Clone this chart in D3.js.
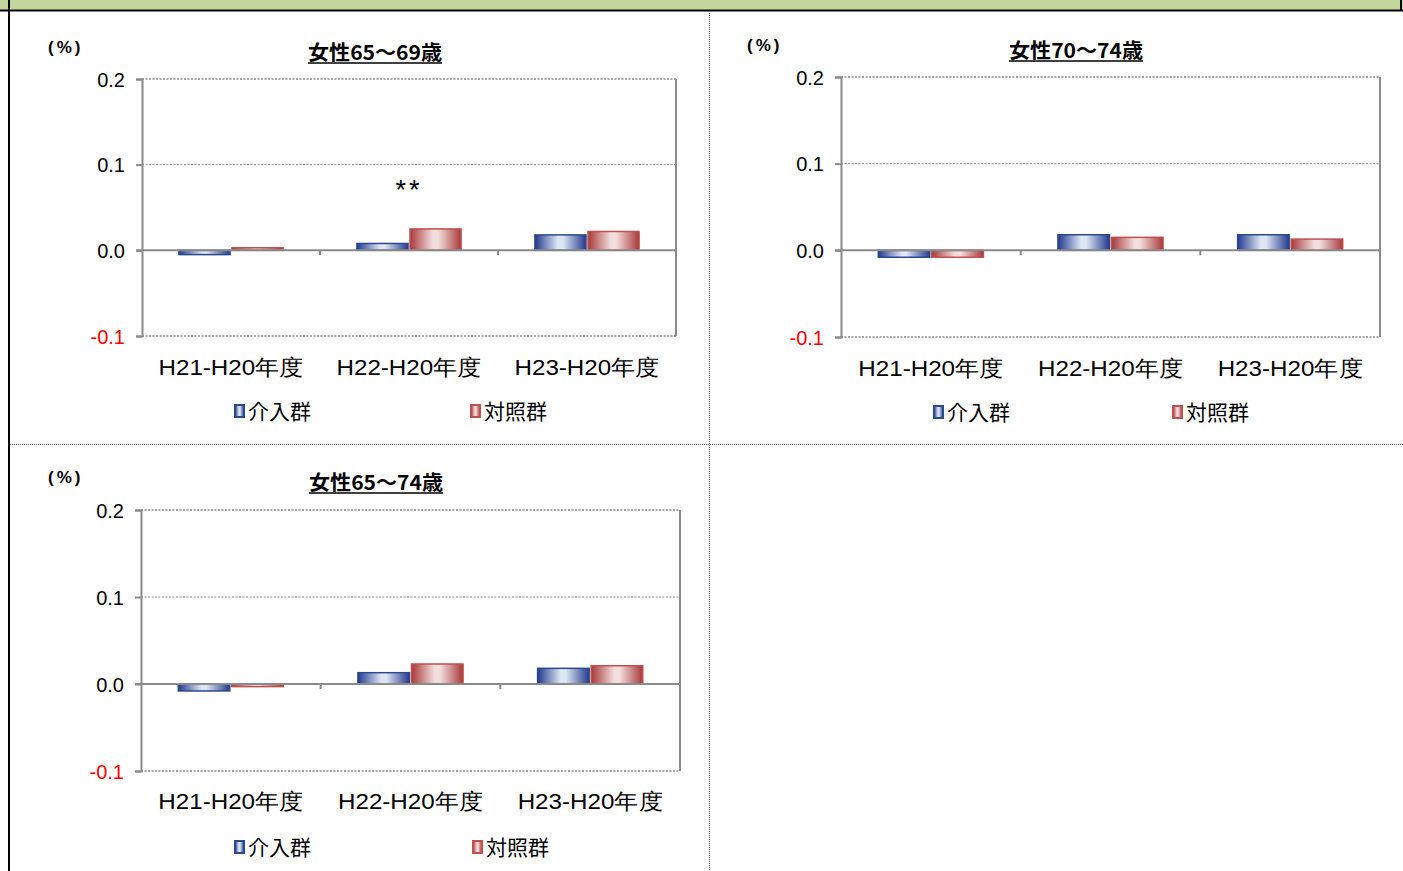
<!DOCTYPE html>
<html><head><meta charset="utf-8">
<script src="https://cdn.jsdelivr.net/npm/d3@7"></script>
<style>
html,body{margin:0;padding:0;background:#fff;}
svg{display:block;}
</style></head>
<body>
<svg id="c" width="1403" height="871"></svg>
<script>
// ---- data ----
const categories = ["H21-H20年度", "H22-H20年度", "H23-H20年度"];
const seriesNames = ["介入群", "対照群"];
const yTicks = [-0.1, 0.0, 0.1, 0.2];
const titles = ["女性65～69歳", "女性70～74歳", "女性65～74歳"];
const f6569Intervention = [-0.005, 0.008, 0.018];
const f6569Control      = [0.003, 0.025, 0.022];
const f7074Intervention = [-0.008, 0.018, 0.018];
const f7074Control      = [-0.008, 0.015, 0.013];
const f6574Intervention = [-0.008, 0.013, 0.018];
const f6574Control      = [-0.003, 0.023, 0.021];
const annotations = [["H22-H20年度", "**"], null, null];

// ---- layout ----
const panels = [
  {x0:142, x1:676, y0:79, y1:336, titleX:375, titleY:60, titleLen:134, pctX:48, pctY:53, catY:375, legY:419, legB:234, legR:470, data:[f6569Intervention, f6569Control]},
  {x0:841, x1:1380, y0:77, y1:337, titleX:1076, titleY:58, titleLen:134, pctX:747, pctY:51, catY:376, legY:420, legB:933, legR:1172, data:[f7074Intervention, f7074Control]},
  {x0:141, x1:680, y0:510, y1:771, titleX:376, titleY:490, titleLen:134, pctX:48, pctY:483, catY:809, legY:855, legB:234, legR:472, data:[f6574Intervention, f6574Control]}
];

const svg = d3.select("#c");
const defs = svg.append("defs");
function grad(id, edge, mid){
  const g = defs.append("linearGradient").attr("id", id).attr("x1","0%").attr("x2","100%").attr("y1","0%").attr("y2","0%");
  g.append("stop").attr("offset","0%").attr("stop-color", edge);
  g.append("stop").attr("offset","45%").attr("stop-color", mid);
  g.append("stop").attr("offset","55%").attr("stop-color", mid);
  g.append("stop").attr("offset","100%").attr("stop-color", edge);
}
grad("gBlue", "#24398f", "#dde6f3");
grad("gRed", "#a8393a", "#f3dede");
const fills = ["url(#gBlue)", "url(#gRed)"];
const strokes = ["#2a4a8c", "#c0504d"];

// ---- frame ----
svg.append("rect").attr("x",0).attr("y",0).attr("width",1403).attr("height",10).attr("fill","#c4d79b");
svg.append("line").attr("x1",0).attr("x2",1403).attr("y1",10.5).attr("y2",10.5).attr("stroke","#000").attr("stroke-width",2);
svg.append("line").attr("x1",9).attr("x2",9).attr("y1",0).attr("y2",871).attr("stroke","#000").attr("stroke-width",2);
svg.append("line").attr("x1",1401).attr("x2",1401).attr("y1",0).attr("y2",11).attr("stroke","#000").attr("stroke-width",2);
svg.append("line").attr("x1",709.5).attr("x2",709.5).attr("y1",11).attr("y2",871).attr("stroke","#555").attr("stroke-width",1).attr("stroke-dasharray","1,1");
svg.append("line").attr("x1",10).attr("x2",1403).attr("y1",444.5).attr("y2",444.5).attr("stroke","#555").attr("stroke-width",1).attr("stroke-dasharray","1,1");

const sans = "'Liberation Sans', Arial, sans-serif";
const jp = "'Noto Sans CJK JP', sans-serif";
const fmt = d => d3.format(".1f")(d).replace("−", "-");

panels.forEach((p, pi) => {
  const g = svg.append("g");
  const y = d3.scaleLinear().domain([-0.1, 0.2]).range([p.y1, p.y0]);
  const x = d3.scaleBand().domain(categories).range([p.x0, p.x1]);
  const bw = x.bandwidth();
  const barW = bw * 0.287;
  const gap = 2;
  const x1 = d3.scaleBand().domain(seriesNames).range([0, 2*barW + gap]).paddingInner(gap/(barW+gap));

  // dotted gridlines and top/bottom borders
  yTicks.filter(t => t !== 0).forEach(t => {
    g.append("line").attr("x1", p.x0).attr("x2", p.x1).attr("y1", y(t)).attr("y2", y(t))
      .attr("stroke", "#8a8a8a").attr("stroke-width", (t === 0.1 ? 1 : 1.5)).attr("stroke-dasharray", "2,1.5");
  });
  // right border
  g.append("line").attr("x1", p.x1).attr("x2", p.x1).attr("y1", p.y0).attr("y2", p.y1).attr("stroke","#8a8a8a").attr("stroke-width",2);

  // bars
  p.data.forEach((vals, si) => {
    g.selectAll(null).data(vals).join("rect")
      .attr("x", (d,i) => x(categories[i]) + (bw - (2*barW+gap))/2 + x1(seriesNames[si]))
      .attr("y", d => Math.min(y(d), y(0)))
      .attr("width", x1.bandwidth())
      .attr("height", d => Math.max(1, Math.abs(y(d) - y(0))))
      .attr("fill", fills[si]).attr("stroke", strokes[si]).attr("stroke-width", 1.5);
  });

  // zero line
  g.append("line").attr("x1", p.x0 - 6).attr("x2", p.x1).attr("y1", y(0)).attr("y2", y(0)).attr("stroke","#8a8a8a").attr("stroke-width",2);
  // x category boundary ticks
  categories.slice(1).forEach(c => {
    g.append("line").attr("x1", x(c)).attr("x2", x(c)).attr("y1", y(0)).attr("y2", y(0)+5).attr("stroke","#8a8a8a").attr("stroke-width",2);
  });

  // y axis
  const ya = d3.axisLeft(y).tickValues(yTicks).tickFormat(fmt).tickSize(6).tickPadding(11);
  const ag = g.append("g").attr("transform", `translate(${p.x0},0)`).call(ya);
  ag.select(".domain").attr("stroke","#8a8a8a").attr("stroke-width",2);
  ag.selectAll(".tick line").attr("stroke","#8a8a8a").attr("stroke-width",2);
  ag.selectAll(".tick text").attr("font-family", sans).attr("font-size", 20)
    .attr("fill", d => d < 0 ? "#ff0000" : "#000").attr("dy", "0.35em");

  // category labels
  const xa = d3.axisBottom(x).tickSize(0).tickPadding(0);
  const xg = g.append("g").attr("transform", `translate(0,${p.catY})`).call(xa);
  xg.select(".domain").remove();
  xg.selectAll(".tick text").attr("font-family", sans).attr("font-size", 22).attr("fill","#000").attr("dy", 0)
    .attr("y", 0).attr("textLength", 145).attr("lengthAdjust", "spacingAndGlyphs");

  // title
  g.append("text").attr("x", p.titleX).attr("y", p.titleY).attr("text-anchor","middle")
    .attr("font-family", jp).attr("font-weight", "bold").attr("font-size", 20)
    .attr("textLength", p.titleLen).attr("lengthAdjust","spacingAndGlyphs")
    .text(titles[pi]);
  g.append("line").attr("x1", p.titleX - p.titleLen/2).attr("x2", p.titleX + p.titleLen/2)
    .attr("y1", p.titleY + 3).attr("y2", p.titleY + 3).attr("stroke","#000").attr("stroke-width",1.5);

  // (%)
  g.append("text").attr("x", p.pctX).attr("y", p.pctY).attr("font-family", sans)
    .attr("font-size", 17).attr("font-weight", "bold").attr("letter-spacing", 3)
    .attr("fill", "#000").text("(%)");

  // legend
  [p.legB, p.legR].forEach((lx, si) => {
    g.append("rect").attr("x", lx + 1).attr("y", p.legY - 14).attr("width", 9).attr("height", 12)
      .attr("fill", fills[si]).attr("stroke", strokes[si]).attr("stroke-width", 2);
    g.append("text").attr("x", lx + 14).attr("y", p.legY).attr("font-family", jp).attr("font-size", 21)
      .attr("fill","#000").text(seriesNames[si]);
  });

  // annotation
  const ann = annotations[pi];
  if (ann) {
    g.append("text").attr("x", x(ann[0]) + bw/2).attr("y", 199).attr("text-anchor","middle")
      .attr("font-family", sans).attr("font-size", 27).attr("letter-spacing", 3).text(ann[1]);
  }
});
</script>
</body></html>
